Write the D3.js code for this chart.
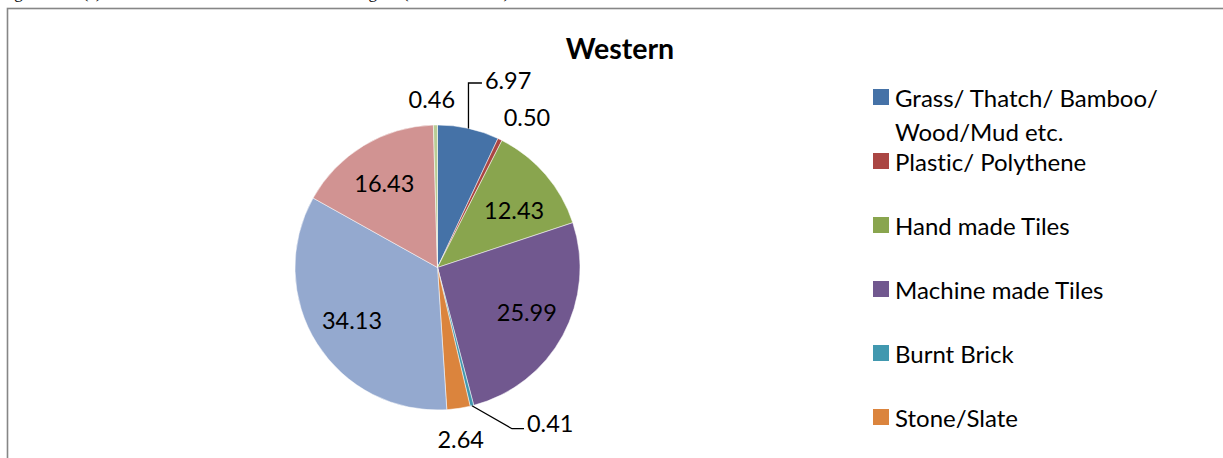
<!DOCTYPE html>
<html><head><meta charset="utf-8">
<script src="https://cdn.jsdelivr.net/npm/d3@7"></script>
<style>html,body{margin:0;padding:0;background:#fff;overflow:hidden}
text{font-variant-ligatures:none;font-feature-settings:"liga" 0,"clig" 0;}</style>
</head><body>
<svg id="chart" width="1223" height="458"></svg>
<script>
// ---- data ----
const title = "Western";
const caption = "Figure 4.10 (a): Roof material of houses – Western Region (% households)";
const categories = [
  "Grass/ Thatch/ Bamboo/\nWood/Mud etc.",
  "Plastic/ Polythene",
  "Hand made Tiles",
  "Machine made Tiles",
  "Burnt Brick",
  "Stone/Slate",
  "G.I./ Metal/ Asbestos sheets",
  "Concrete",
  "Any other material"
];
const values = [6.97, 0.50, 12.43, 25.99, 0.41, 2.64, 34.13, 16.43, 0.46];
const valueLabels = ["6.97", "0.50", "12.43", "25.99", "0.41", "2.64", "34.13", "16.43", "0.46"];

// ---- style / layout ----
const colors = ["#4572A7", "#AA4643", "#89A54E", "#71588F", "#4198AF", "#DB843D", "#94A9CF", "#D19392", "#B9CD96"];
const labelLayout = [
  {rf: 1.406, da: 8.1, leader: "up"},
  {rf: 1.226, da: 4.8},
  {rf: 0.672, da: 3.9},
  {rf: 0.70, da: -2.0},
  {rf: 1.346, da: -22.0, leader: "diag"},
  {rf: 1.215, da: 0.8},
  {rf: 0.704, da: 0.75},
  {rf: 0.70, da: -1.0},
  {rf: 1.183, da: -1.1}
];
const FONT = "Lato, 'Open Sans', sans-serif";
const W = 1223, H = 458;
const cx = 437.5, cy = 267.5, R = 142.5;

const svg = d3.select("#chart");

// caption (clipped at top like the reference)
svg.append("text").attr("x", 0).attr("y", -2.5)
  .attr("font-family", "'Liberation Serif', 'Times New Roman', serif")
  .attr("font-size", 17).attr("fill", "#000").text(caption);

// chart border
svg.append("rect").attr("x", 7.5).attr("y", 8.5).attr("width", 1240).attr("height", 480)
  .attr("fill", "none").attr("stroke", "#868686").attr("stroke-width", 1.6);

// title
svg.append("text").attr("x", 620).attr("y", 59).attr("text-anchor", "middle")
  .attr("font-family", FONT).attr("font-weight", "bold").attr("font-size", 28.5)
  .attr("fill", "#000").text(title);

// pie
const pieGen = d3.pie().sort(null).value(d => d);
const arcs = pieGen(values);
const arcGen = d3.arc().innerRadius(0).outerRadius(R);
const g = svg.append("g").attr("transform", `translate(${cx},${cy})`);
g.selectAll("path.slice").data(arcs).join("path").attr("class", "slice")
  .attr("d", arcGen).attr("fill", (d, i) => colors[i])
  .attr("stroke", "#fff").attr("stroke-width", 0.5);

const polar = (a, r) => [Math.sin(a) * r, -Math.cos(a) * r];
const mid = d => (d.startAngle + d.endAngle) / 2;

const labels = g.selectAll("text.lbl").data(arcs).join("text").attr("class", "lbl")
  .attr("font-family", FONT).attr("font-size", 23.5).attr("fill", "#000")
  .attr("text-anchor", "middle").attr("dominant-baseline", "central")
  .each(function(d, i) {
    const L = labelLayout[i];
    const p = polar(mid(d) + L.da * Math.PI / 180, R * L.rf);
    d3.select(this).attr("x", p[0]).attr("y", p[1]).text(valueLabels[i]);
    d.lp = p;
  });

labels.each(function(d, i) {
  const L = labelLayout[i];
  if (!L.leader) return;
  const w = this.getComputedTextLength();
  const left = d.lp[0] - w / 2;
  const e = polar(mid(d), R);
  let pts;
  if (L.leader === "up") {
    const yy = d.lp[1] + 3;
    pts = [e, [e[0], yy], [left - 3, yy]];
  } else {
    const yy = d.lp[1] + 6;
    pts = [e, [left - 15, yy], [left - 3, yy]];
  }
  g.append("path").attr("d", d3.line()(pts)).attr("fill", "none")
    .attr("stroke", "#000").attr("stroke-width", 1.3);
});

// legend (entries beyond the visible area are cut off in the reference)
const legY = (i) => 97 + i * 64;
const legData = categories.map((c, i) => ({c, i})).filter(d => legY(d.i) + 12 < H);
const leg = svg.append("g");
const items = leg.selectAll("g").data(legData).join("g")
  .attr("transform", d => `translate(873,${legY(d.i)})`);
items.append("rect").attr("x", 0).attr("y", -8).attr("width", 16).attr("height", 16)
  .attr("fill", d => colors[d.i]);
items.append("text").attr("font-family", FONT).attr("font-size", 24).attr("fill", "#000")
  .attr("dominant-baseline", "central")
  .each(function(d) {
    const t = d3.select(this);
    d.c.split("\n").forEach((line, k) => {
      t.append("tspan").attr("x", 22).attr("y", k * 34).text(line);
    });
  });
</script>
</body></html>
